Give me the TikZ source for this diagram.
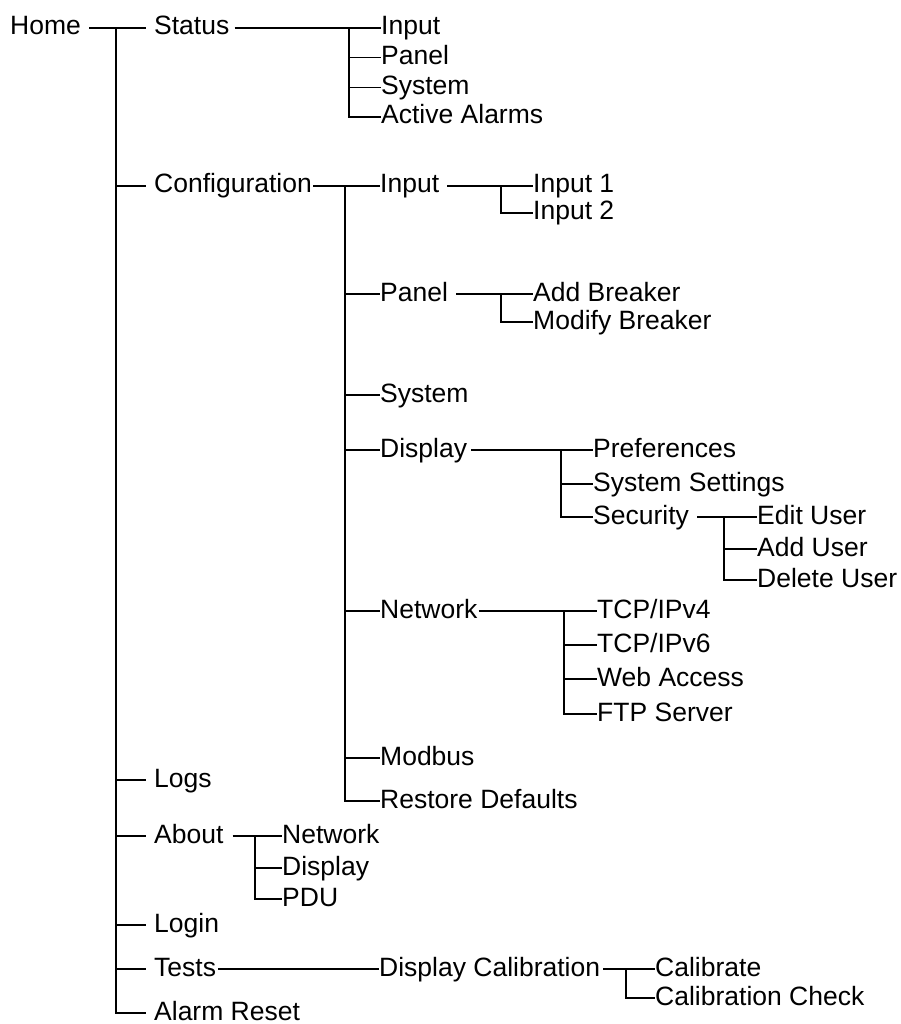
\documentclass[tikz,border=0pt]{standalone}
\usepackage{fontspec}
\setmainfont{Liberation Sans}
\usepackage{tikz}
\usetikzlibrary{positioning,calc}

\begin{document}
\begin{tikzpicture}[x=1pt,y=-1pt,
  item/.style={anchor=west,inner sep=0pt,font=\fontsize{26.5}{30}\selectfont,
               text height=19pt,text depth=5pt},
  link/.style={draw=black,line width=1.5pt}]
\useasboundingbox (0,0) rectangle (901,1024);
% top level
\node[item] (home) at (10,28) {Home};
\node[item] (status) at (154,28) {Status};
\node[item] (config) at (154,186) {Configuration};
\node[item] (logs) at (154,780) {Logs};
\node[item] (about) at (154,836) {About};
\node[item] (login) at (154,925) {Login};
\node[item] (tests) at (154,969) {Tests};
\node[item] (alarmReset) at (154,1013) {Alarm Reset};
% status menu
\node[item] (stInput) at (381,28) {Input};
\node[item] (stPanel) at (381,57.5) {Panel};
\node[item] (stSystem) at (381,87.5) {System};
\node[item] (stAlarms) at (381,117) {Active Alarms};
% configuration menu
\node[item] (cfInput) at (380,186) {Input};
\node[item] (cfPanel) at (380,294) {Panel};
\node[item] (cfSystem) at (380,395) {System};
\node[item] (cfDisplay) at (380,450) {Display};
\node[item] (cfNetwork) at (380,611) {Network};
\node[item] (modbus) at (380,758) {Modbus};
\node[item] (restore) at (380,801) {Restore Defaults};
\node[item] (inOne) at (533,186) {Input 1};
\node[item] (inTwo) at (533,213) {Input 2};
\node[item] (addBrk) at (533,294) {Add Breaker};
\node[item] (modBrk) at (533,322) {Modify Breaker};
\node[item] (prefs) at (593,450) {Preferences};
\node[item] (sysSet) at (593,484) {System Settings};
\node[item] (security) at (593,517) {Security};
\node[item] (editUsr) at (757,517) {Edit User};
\node[item] (addUsr) at (757,549) {Add User};
\node[item] (delUsr) at (757,580) {Delete User};
\node[item] (ipFour) at (597,611) {TCP/IPv4};
\node[item] (ipSix) at (597,645) {TCP/IPv6};
\node[item] (webAcc) at (597,679) {Web Access};
\node[item] (ftp) at (597,714) {FTP Server};
% about / tests
\node[item] (abNetwork) at (282,836) {Network};
\node[item] (abDisplay) at (282,868) {Display};
\node[item] (pdu) at (282,899) {PDU};
\node[item] (dispCal) at (379,969) {Display Calibration};
\node[item] (calib) at (655,969) {Calibrate};
\node[item] (calCheck) at (655,998) {Calibration Check};

% junctions
\coordinate (jHome) at (116,28);
\coordinate (jStatus) at (349,28);
\coordinate (jConfig) at (345,186);
\coordinate (jInput) at (501,186);
\coordinate (jPanel) at (501,294);
\coordinate (jDisplay) at (561,450);
\coordinate (jSecurity) at (724,517);
\coordinate (jNetwork) at (564,611);
\coordinate (jAbout) at (255,836);
\coordinate (jCal) at (626,969);

% connectors
\draw[link,shorten <=8pt,shorten >=8pt] (home.east) -- (status.west);
\draw[link,shorten >=8pt] (jHome) |- (alarmReset.west);
\foreach \c in {config,logs,about,login,tests}
  \draw[link,shorten >=8pt] (jHome |- \c) -- (\c.west);

\draw[link,shorten <=5pt] (status.east) -- (stInput.west);
\draw[link] (jStatus) |- (stAlarms.west);
\foreach \c in {stPanel,stSystem}
  \draw[link] (jStatus |- \c) -- (\c.west);

\draw[link,shorten <=1pt] (config.east) -- (cfInput.west);
\draw[link] (jConfig) |- (restore.west);
\foreach \c in {cfPanel,cfSystem,cfDisplay,cfNetwork,modbus}
  \draw[link] (jConfig |- \c) -- (\c.west);

\draw[link,shorten <=8pt] (cfInput.east) -- (inOne.west);
\draw[link] (jInput) |- (inTwo.west);
\draw[link,shorten <=8pt] (cfPanel.east) -- (addBrk.west);
\draw[link] (jPanel) |- (modBrk.west);

\draw[link,shorten <=4pt] (cfDisplay.east) -- (prefs.west);
\draw[link] (jDisplay) |- (security.west);
\draw[link] (jDisplay |- sysSet) -- (sysSet.west);
\draw[link,shorten <=8pt] (security.east) -- (editUsr.west);
\draw[link] (jSecurity) |- (delUsr.west);
\draw[link] (jSecurity |- addUsr) -- (addUsr.west);

\draw[link,shorten <=1pt] (cfNetwork.east) -- (ipFour.west);
\draw[link] (jNetwork) |- (ftp.west);
\foreach \c in {ipSix,webAcc}
  \draw[link] (jNetwork |- \c) -- (\c.west);

\draw[link,shorten <=9pt] (about.east) -- (abNetwork.west);
\draw[link] (jAbout) |- (pdu.west);
\draw[link] (jAbout |- abDisplay) -- (abDisplay.west);

\draw[link,shorten <=2pt] (tests.east) -- (dispCal.west);
\draw[link,shorten <=3pt] (dispCal.east) -- (calib.west);
\draw[link] (jCal) |- (calCheck.west);
\end{tikzpicture}
\end{document}
